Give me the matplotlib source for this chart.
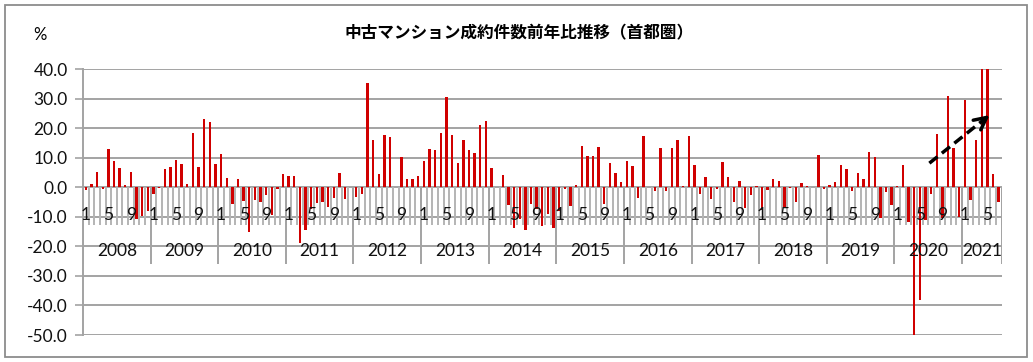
import numpy as np
import matplotlib
matplotlib.use('Agg')
import matplotlib.pyplot as plt
from matplotlib.patches import Rectangle

plt.rcParams['font.family'] = ['Lato', 'Noto Sans CJK JP', 'DejaVu Sans']

# 中古マンション成約件数 前年同月比(%) 首都圏, 2008/1 - 2021/7
y2008 = [-1.0, 1.2, 5.2, -0.5, 12.9, 9.1, 6.7, 0.7, 5.3, -10.8, -9.8, -8.0]
y2009 = [-2.1, -0.3, 6.2, 6.9, 9.2, 8.0, 1.2, 18.3, 6.9, 23.3, 22.2, 7.8]
y2010 = [11.2, 3.1, -5.7, 2.7, -4.7, -15.1, -4.2, -4.9, -2.7, -9.2, -0.6, 4.5]
y2011 = [4.0, 3.8, -19.0, -14.3, -7.2, -5.2, -4.9, -6.7, -3.6, 4.8, -3.8, 0.3]
y2012 = [-3.3, -2.1, 35.5, 16.2, 4.4, 17.6, 17.1, 0.2, 10.3, 2.7, 3.0, 3.9]
y2013 = [9.1, 13.1, 12.8, 18.5, 30.6, 17.9, 8.3, 16.0, 12.5, 11.7, 21.1, 22.6]
y2014 = [6.7, 0.1, 4.2, -6.1, -13.9, -10.6, -14.5, -5.5, -7.2, -13.1, -8.9, -13.6]
y2015 = [-8.1, -0.5, -6.4, 0.8, 13.9, 10.7, 10.7, 13.8, -5.5, 8.4, 4.9, 1.9]
y2016 = [8.8, 7.4, -3.6, 17.3, 0.1, -1.3, 13.5, -1.1, 13.5, 16.0, 0.4, 17.5]
y2017 = [7.6, -2.2, 3.5, -3.8, -0.4, 8.6, 3.5, -4.9, 2.2, -7.0, -2.6, 0.5]
y2018 = [-7.5, -1.0, 2.7, 2.3, -6.8, -0.3, -5.0, 1.6, 0.6, 0.0, 10.9, -0.5]
y2019 = [0.8, 1.7, 7.7, 6.2, -1.2, 5.0, 2.9, 12.1, 10.4, -10.4, -1.6, -6.0]
y2020 = [0.4, 7.5, -11.6, -50.2, -38.3, -10.9, -2.4, 18.0, -10.4, 31.0, 13.5, -10.1]
y2021 = [29.7, -4.3, 16.0, 87.0, 62.0, 4.7, -4.8]  # 4,5月は40超(グラフ上限で切れる)

by_year = [y2008, y2009, y2010, y2011, y2012, y2013, y2014,
           y2015, y2016, y2017, y2018, y2019, y2020, y2021]
years = list(range(2008, 2022))
shown_months = [1, 5, 9]
yticks = np.arange(-50, 41, 10)

values = np.concatenate(by_year)
n = len(values)
x = np.arange(n)

W, H = 1033, 362
fig = plt.figure(figsize=(W / 100, H / 100), dpi=100)
ax = fig.add_axes([83 / W, 1 - 335 / H, (1001.5 - 83) / W, (335 - 69.3) / H])

grid_c = '#a3a3a3'
tick_c = '#b4b4b4'

ax.set_xlim(-0.5, n - 0.5)
ax.set_ylim(-50, 40)
ax.set_yticks(yticks)
ax.set_yticklabels([f'{v:.1f}' for v in yticks])
ax.tick_params(axis='y', length=6, width=1.2, color=grid_c, labelsize=12.5,
               pad=5, labelcolor='#111111')
ax.set_xticks([])
ax.grid(axis='y', color=grid_c, lw=1.4)
ax.set_axisbelow(True)
for s in ['top', 'right', 'bottom']:
    ax.spines[s].set_visible(False)
ax.spines['left'].set_color(grid_c)
ax.spines['left'].set_linewidth(1.4)

# 月の目盛線と年の区切り線 (カテゴリ軸はゼロの位置)
ax.vlines(np.arange(n + 1) - 0.5, -12.9, 0, color=tick_c, lw=1.4, zorder=1)
starts = np.cumsum([0] + [len(v) for v in by_year])
ax.vlines(starts - 0.5, -26.1, 0, color=grid_c, lw=1.4, zorder=1)

ax.bar(x, values, width=0.42, color='#d00000', zorder=3)

# 月ラベル・年ラベル
for k, yr in enumerate(years):
    for m in shown_months:
        if m <= len(by_year[k]):
            ax.text(starts[k] + m - 1, -9.4, str(m), ha='center', va='center',
                    fontsize=12.5, color='#111111', zorder=4)
    ax.text((starts[k] + starts[k + 1] - 1) / 2, -21.6, str(yr), ha='center',
            va='center', fontsize=12.5, color='#111111', zorder=4)

# 上昇トレンドの矢印
tail = (149.7, 8.2)
head = (160.4, 24.5)
ax.plot([tail[0], head[0] - 0.6], [tail[1], head[1] - 0.9], color='black',
        lw=2.5, ls=(0, (3, 1.6)), zorder=5)
ax.annotate('', xy=head, xytext=(head[0] - 1.2, head[1] - 1.8),
            arrowprops=dict(arrowstyle='->', lw=2.5, color='black',
                            mutation_scale=22, shrinkA=0, shrinkB=0),
            zorder=5)

fig.text(519 / W, 1 - 33 / H, '中古マンション成約件数前年比推移（首都圏）',
         ha='center', va='center', fontsize=12, fontweight='bold',
         family=['Noto Sans CJK JP', 'DejaVu Sans'])
fig.text(40 / W, 1 - 35 / H, '%', ha='center', va='center', fontsize=12)

fig.patches.append(Rectangle((5 / W, 5 / H), (1027 - 5) / W, (357 - 5) / H,
                             transform=fig.transFigure, fill=False,
                             ec='#8c8c8c', lw=1.3))

fig.savefig('out.png', dpi=100)
